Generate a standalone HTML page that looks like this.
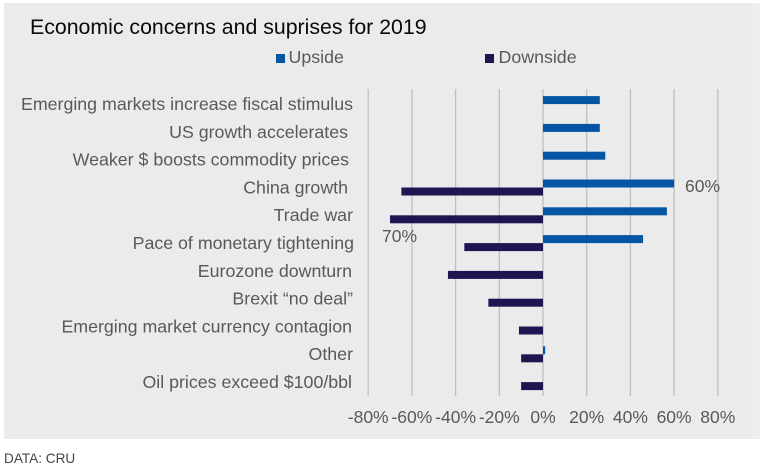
<!DOCTYPE html>
<html>
<head>
<meta charset="utf-8">
<style>
html,body{margin:0;padding:0;background:#fff;width:764px;height:469px;overflow:hidden}
svg{display:block}
text{font-family:"Liberation Sans",sans-serif}
</style>
</head>
<body>
<svg id="chart" width="764" height="469" viewBox="0 0 764 469" xmlns="http://www.w3.org/2000/svg">
<rect x="4" y="3" width="756" height="436" fill="#eeeeee"/>
<rect x="4" y="3" width="749" height="436" fill="#ebebec"/>
<text x="30" y="34" font-size="21.300" fill="#0a0a0a">Economic concerns and suprises for 2019</text>
<rect x="276" y="54" width="9" height="9" fill="#0455a4"/>
<text x="288.500" y="63" font-size="17.800" fill="#595959">Upside</text>
<rect x="485" y="54" width="9" height="9" fill="#1f1550"/>
<text x="498.500" y="63" font-size="17.800" fill="#595959">Downside</text>
<g id="grid"></g>
<g id="bars"></g>
<g id="cats"></g>
<g id="ticks"></g>
<text x="685" y="192" font-size="17.500" fill="#595959">60%</text>
<text x="382" y="242" font-size="17.500" fill="#595959">70%</text>
<text x="4" y="463" font-size="13.600" fill="#444444">DATA: CRU</text>
</svg>
<script>
const categories = ["Emerging markets increase fiscal stimulus","US growth accelerates","Weaker $ boosts commodity prices","China growth","Trade war","Pace of monetary tightening","Eurozone downturn","Brexit \u201cno deal\u201d","Emerging market currency contagion","Other","Oil prices exceed $100/bbl"];
const upside = [26,26,28.5,60,56.7,45.8,0,0,0,1,0];
const downside = [0,0,0,64.8,70,36,43.5,25,11,10,10];
const tickValues = [-80,-60,-40,-20,0,20,40,60,80];
const NS = "http://www.w3.org/2000/svg";
const plotTop = 89, plotBottom = 396, bandTop = 90.2, bandBottom = 396, zeroX = 543, pxPerUnit = 2.185, barH = 8;
const catRight = [353,348,349,348,353,354,352,353,352,353,352];
function xScale(v){ return zeroX + v * pxPerUnit; }
function bandCenter(i){ return bandTop + (bandBottom - bandTop) * (i + 0.5) / categories.length; }
function make(tag, attrs, parent){
  const el = document.createElementNS(NS, tag);
  for (const k in attrs) el.setAttribute(k, attrs[k]);
  parent.appendChild(el);
  return el;
}
const grid = document.getElementById("grid");
const bars = document.getElementById("bars");
const cats = document.getElementById("cats");
const ticks = document.getElementById("ticks");
tickValues.forEach(function(t){
  const x = xScale(t);
  const line = make("line", {x1:x, x2:x, y1:plotTop, y2:plotBottom, stroke:"#bfbfbf", "stroke-width":1.300}, grid);
  
  
  const label = make("text", {x:x, y:423, "font-size":17.500, fill:"#595959", "text-anchor":"middle"}, ticks);
  label.textContent = t + "%";
  
  
});
categories.forEach(function(c, i){
  const cy = bandCenter(i);
  const label = make("text", {x:catRight[i], y:cy + 5.9, "font-size":17.800, fill:"#595959", "text-anchor":"end"}, cats);
  label.textContent = c;
  
  
  if (upside[i] > 0) {
    const up = make("rect", {x:xScale(0), y:cy - barH, width:xScale(upside[i]) - xScale(0), height:barH, fill:"#0455a4"}, bars);
    
    
  }
  if (downside[i] > 0) {
    const down = make("rect", {x:xScale(-downside[i]), y:cy, width:xScale(0) - xScale(-downside[i]), height:barH, fill:"#1f1550"}, bars);
    
    
  }
});
</script>
</body>
</html>
